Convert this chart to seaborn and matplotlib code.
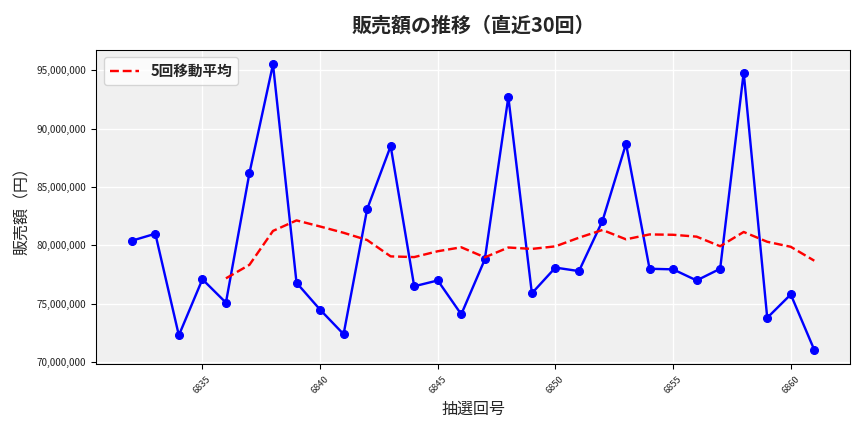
import matplotlib
matplotlib.use("Agg")
import matplotlib.pyplot as plt
import seaborn as sns
import pandas as pd
import matplotlib.ticker as mt

draws = list(range(6832, 6862))
sales_m = [80.4, 81.0, 72.3, 77.1, 75.1, 86.2, 95.5, 76.8, 74.5, 72.4,
           83.1, 88.5, 76.5, 77.0, 74.1, 78.8, 92.7, 75.9, 78.1, 77.8,
           82.1, 88.7, 78.0, 77.95, 77.0, 78.0, 94.8, 73.8, 75.8, 71.05]

df = pd.DataFrame({"draw": draws, "sales": [v * 1e6 for v in sales_m]})
df["ma"] = df["sales"].rolling(5).mean()

sns.set_style("whitegrid")
plt.rcParams['font.family'] = ['Noto Sans CJK JP', 'DejaVu Sans']
fig, ax = plt.subplots(figsize=(9, 4.5), dpi=96)
ax.set_facecolor("#f0f0f0")
sns.lineplot(data=df, x="draw", y="sales", color="blue", marker="o", markersize=6,
             markeredgecolor="blue", linewidth=1.8, ax=ax)
sns.lineplot(data=df, x="draw", y="ma", color="red", linestyle="--", linewidth=1.8,
             ax=ax, label="5回移動平均")
ax.grid(True, color="white", linewidth=1)
for s in ax.spines.values():
    s.set_color("black"); s.set_linewidth(0.8)
ax.yaxis.set_major_formatter(mt.FuncFormatter(lambda v, p: f"{int(v):,}"))
ax.xaxis.set_major_locator(mt.MultipleLocator(5))
ax.tick_params(axis="both", which="major", length=4, width=0.8, color="black", bottom=True, left=True)
ax.tick_params(axis="x", labelsize=7, rotation=45)
ax.tick_params(axis="y", labelsize=7.5)
ax.set_xlim(6830.5, 6862.5)
ax.set_title("販売額の推移（直近30回）", fontsize=15, fontweight="bold", pad=14)
ax.set_xlabel("抽選回号", fontsize=12)
ax.set_ylabel("販売額（円）", fontsize=12)
ax.legend(loc="upper left", prop={"size": 11, "weight": "bold"}, facecolor="white")
fig.tight_layout()
fig.savefig("out.png")
